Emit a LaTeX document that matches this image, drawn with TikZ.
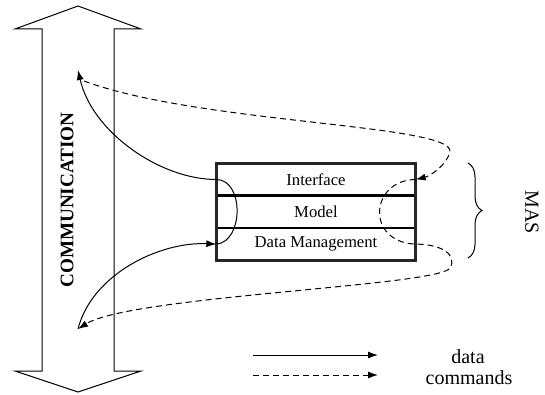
\documentclass[tikz,border=0pt]{standalone}
\usepackage{fontspec}
\setmainfont{Liberation Serif}
\usetikzlibrary{arrows.meta,decorations.pathreplacing,positioning}

\tikzset{
  layer/.style={draw, line width=0.8pt, minimum width=118.8pt, minimum height=18.6pt, inner sep=0pt},
  flow/.style={line width=0.6pt, -{Latex[length=6pt, width=4.2pt]}},
  cmdflow/.style={flow, dash pattern=on 3.6pt off 2.4pt},
}

\begin{document}
\begin{tikzpicture}[x=0.6pt, y=0.6pt]
\useasboundingbox (0,0) rectangle (545,394);

% the big two-headed communication arrow
\draw[line width=0.6pt] (42,365) -- (15,365) -- (78,388) -- (141,365) -- (114,365)
  -- (114,23) -- (141,23) -- (78,2) -- (15,23) -- (42,23) -- cycle;
\node[rotate=90, font=\fontsize{11.5}{14}\selectfont\bfseries] (comm) at (67,194) {COMMUNICATION};
\coordinate (commtop) at (78,324);
\coordinate (cmdtop) at (84,313);
\coordinate (commbot) at (78,65);

% the three layers
\node[layer] (iface) at (316,214.5) {Interface};
\node[layer, below=0pt of iface] (model) {Model};
\node[layer, below=0pt of model] (datam) {Data Management};
\draw[line width=1.8pt, black!85] (iface.north west) rectangle (datam.south east);

% data
\draw[flow] (iface.west) .. controls (160,214.5) and (92,262) .. (commtop);
\draw[line width=0.6pt] (iface.west) .. controls (244,214.5) and (244,152.5) .. (datam.west);
\draw[flow] (commbot) .. controls (92,120) and (160,152.5) .. (datam.west);

% commands
\draw[cmdflow] (cmdtop) .. controls (200,270) and (455,270) .. (450,242)
  .. controls (446,228) and (430,218) .. (iface.east);
\draw[cmdflow] (iface.east) .. controls (370,214) and (365,152) .. (datam.east)
  .. controls (440,150) and (458,140) .. (450,126)
  .. controls (440,108) and (130,98) .. (commbot);

% MAS brace
\draw[line width=0.6pt, decorate, decoration={brace, amplitude=8.4pt}] (468,231) -- (468,136);
\node[rotate=-90, font=\fontsize{12}{14}\selectfont] (mas) at (532,182) {MAS};

% legend
\coordinate (ldataA) at (253,39);
\coordinate (ldataB) at (378,39);
\coordinate (lcmdA) at (253,19);
\coordinate (lcmdB) at (378,19);
\draw[flow] (ldataA) -- (ldataB);
\draw[cmdflow] (lcmdA) -- (lcmdB);
\node[font=\fontsize{12}{14}\selectfont] (ldata) at (468,37) {data};
\node[font=\fontsize{12}{14}\selectfont] (lcmd) at (469,16) {commands};
\end{tikzpicture}
\end{document}
